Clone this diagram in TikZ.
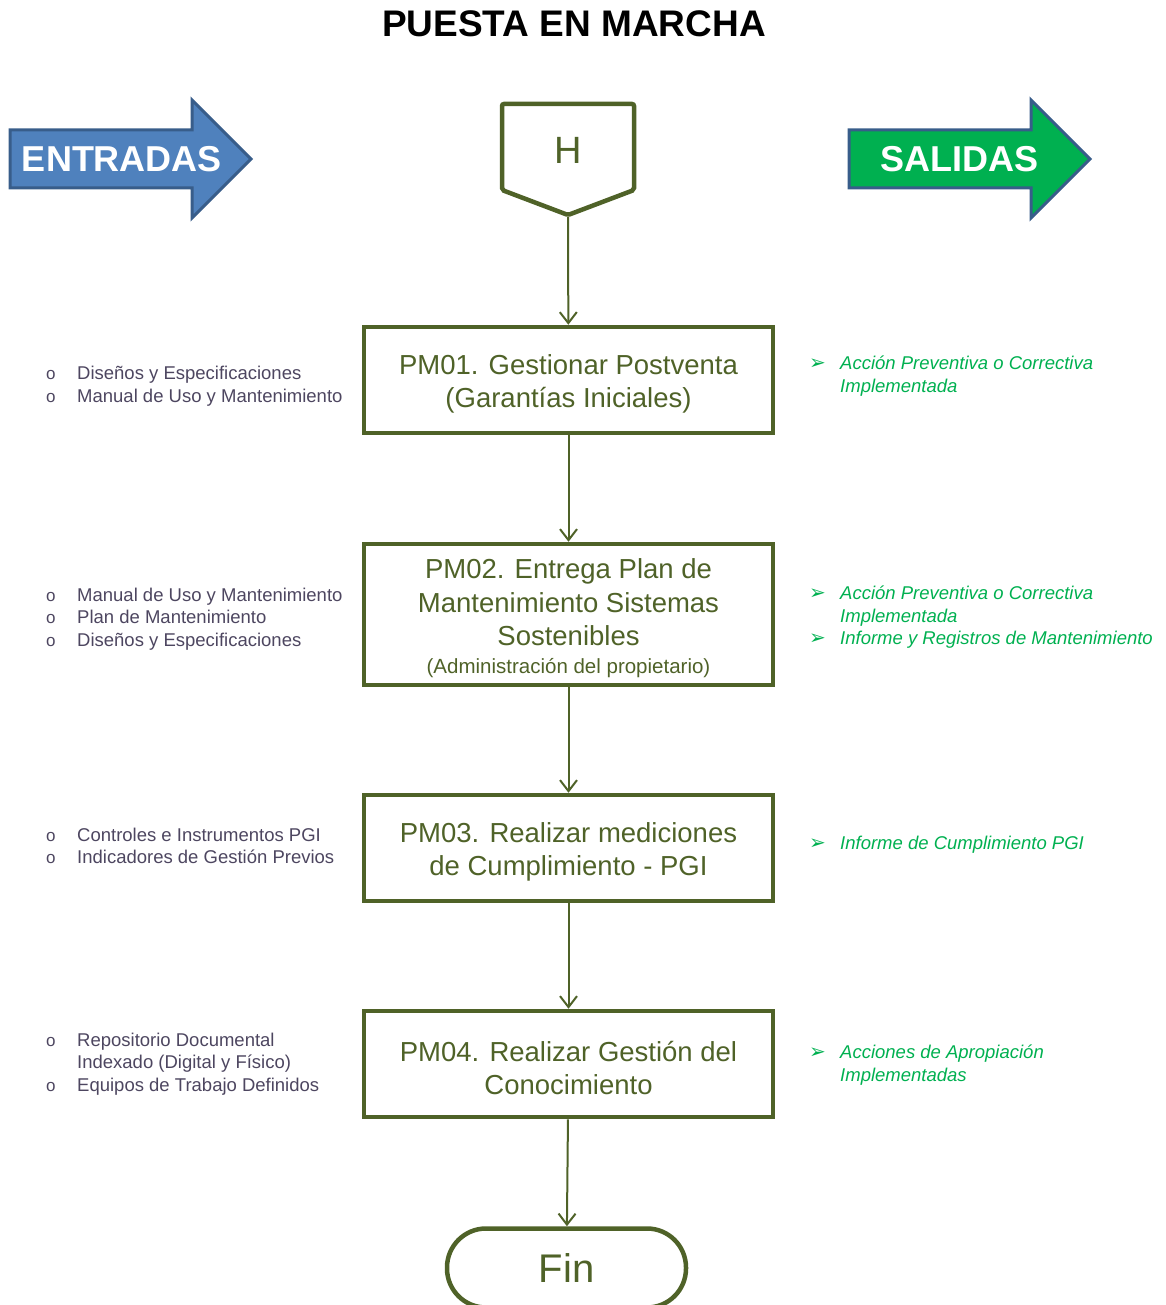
\documentclass[tikz,border=0pt]{standalone}
\usepackage{fontspec}
\setmainfont{Liberation Sans}
\newfontfamily\dejavu{DejaVu Sans}
\usetikzlibrary{arrows.meta}

\definecolor{procgreen}{HTML}{4F6228}
\definecolor{intext}{HTML}{4D4660}
\definecolor{outtext}{HTML}{00B050}
\definecolor{inblue}{HTML}{4F81BD}
\definecolor{outgreen}{HTML}{00B050}
\definecolor{edgeblue}{HTML}{385D8A}

% bullets of the input and output lists
\newcommand\inbul{\makebox[31pt][l]{\fontsize{17}{17}\selectfont o}}
\newcommand\outbul{\makebox[31pt][l]{\dejavu\fontsize{20}{20}\selectfont ➢}}
\newcommand\inskip{\hspace*{31pt}}
% strut that sets the first line of the process boxes
\newcommand\topstrut{\rule{0pt}{28pt}}

\begin{document}
\begin{tikzpicture}[x=1pt,y=-1pt,
  proc/.style={draw=procgreen, line width=4.5pt, text=procgreen, align=center,
    minimum width=409pt, minimum height=106pt, inner sep=0pt,
    font=\fontsize{27.5}{33.5}\selectfont},
  flow/.style={draw=procgreen, line width=2pt,
    -{Straight Barb[length=11pt,width=17pt,line width=2pt]}},
  inlist/.style={anchor=west, align=left, text=intext, inner sep=0pt,
    font=\fontsize{18.5}{22.5}\selectfont},
  outlist/.style={anchor=west, align=left, text=outtext, inner sep=0pt,
    font=\fontsize{18.5}{22.5}\selectfont\itshape},
  bigarrow/.style={line width=3pt, draw=edgeblue, line join=miter},
  arrowlabel/.style={text=white, font=\bfseries\fontsize{36}{40}\selectfont},
]
\useasboundingbox (0,0) rectangle (1165,1305);

% title
\node[font=\bfseries\fontsize{37}{40}\selectfont] (title) at (574,24) {PUESTA EN MARCHA};

% ENTRADAS / SALIDAS banners
\fill[inblue] (10,130) -- (192,130) -- (192,100) -- (251,159) -- (192,218)
  -- (192,188) -- (10,188) -- cycle;
\draw[bigarrow] (10,130) -- (192,130) -- (192,100) -- (251,159) -- (192,218)
  -- (192,188) -- (10,188) -- cycle;
\node[arrowlabel] (entradas) at (122,159) {ENTRADAS};

\fill[outgreen] (849,130) -- (1031,130) -- (1031,100) -- (1090,159) -- (1031,218)
  -- (1031,188) -- (849,188) -- cycle;
\draw[bigarrow] (849,130) -- (1031,130) -- (1031,100) -- (1090,159) -- (1031,218)
  -- (1031,188) -- (849,188) -- cycle;
\node[arrowlabel] (salidas) at (959,159) {SALIDAS};

% off-page connector H
\draw[procgreen, line width=4.5pt, rounded corners=2pt]
  (502,190) -- (502,104) -- (634,104) -- (634,190) -- (568,215) -- cycle;
\node[text=procgreen, font=\fontsize{38}{40}\selectfont] (H) at (568,150) {H};
\coordinate (Hbot) at (568,217);

% process boxes
\node[proc] (b1) at (568.5,380) {\topstrut PM01. Gestionar Postventa\\(Garantías Iniciales)};
\node[proc, minimum height=141pt] (b2) at (568.5,614.5)
  {\topstrut PM02. Entrega Plan de\\Mantenimiento Sistemas\\Sostenibles\\[-5.5pt]
   {\fontsize{20.5}{24}\selectfont (Administración del propietario)}};
\node[proc] (b3) at (568.5,848) {\topstrut PM03. Realizar mediciones\\de Cumplimiento - PGI};
\node[proc] (b4) at (568.5,1064) {\topstrut PM04. Realizar Gestión del\\Conocimiento};

% terminator
\node[draw=procgreen, line width=4.5pt, rounded corners=39pt, minimum width=239pt,
  minimum height=79pt, text=procgreen, font=\fontsize{40}{42}\selectfont]
  (fin) at (566.5,1268) {Fin};

% flow
\draw[flow] (Hbot) -- (b1);
\draw[flow] (b1) -- (b2);
\draw[flow] (b2) -- (b3);
\draw[flow] (b3) -- (b4);
\draw[flow] (b4) -- (fin);

% inputs
\node[inlist] (in1) at (46,386)
  {\inbul Diseños y Especificaciones\\\inbul Manual de Uso y Mantenimiento};
\node[inlist] (in2) at (46,619)
  {\inbul Manual de Uso y Mantenimiento\\\inbul Plan de Mantenimiento\\\inbul Diseños y Especificaciones};
\node[inlist] (in3) at (46,846)
  {\inbul Controles e Instrumentos PGI\\\inbul Indicadores de Gestión Previos};
\node[inlist] (in4) at (46,1064)
  {\inbul Repositorio Documental\\\inskip Indexado (Digital y Físico)\\\inbul Equipos de Trabajo Definidos};

% outputs
\node[outlist] (out1) at (809,376)
  {\outbul Acción Preventiva o Correctiva\\\inskip Implementada};
\node[outlist] (out2) at (809,617.5)
  {\outbul Acción Preventiva o Correctiva\\\inskip Implementada\\\outbul Informe y Registros de Mantenimiento};
\node[outlist] (out3) at (809,845)
  {\outbul Informe de Cumplimiento PGI};
\node[outlist] (out4) at (809,1065)
  {\outbul Acciones de Apropiación\\\inskip Implementadas};
\end{tikzpicture}
\end{document}
